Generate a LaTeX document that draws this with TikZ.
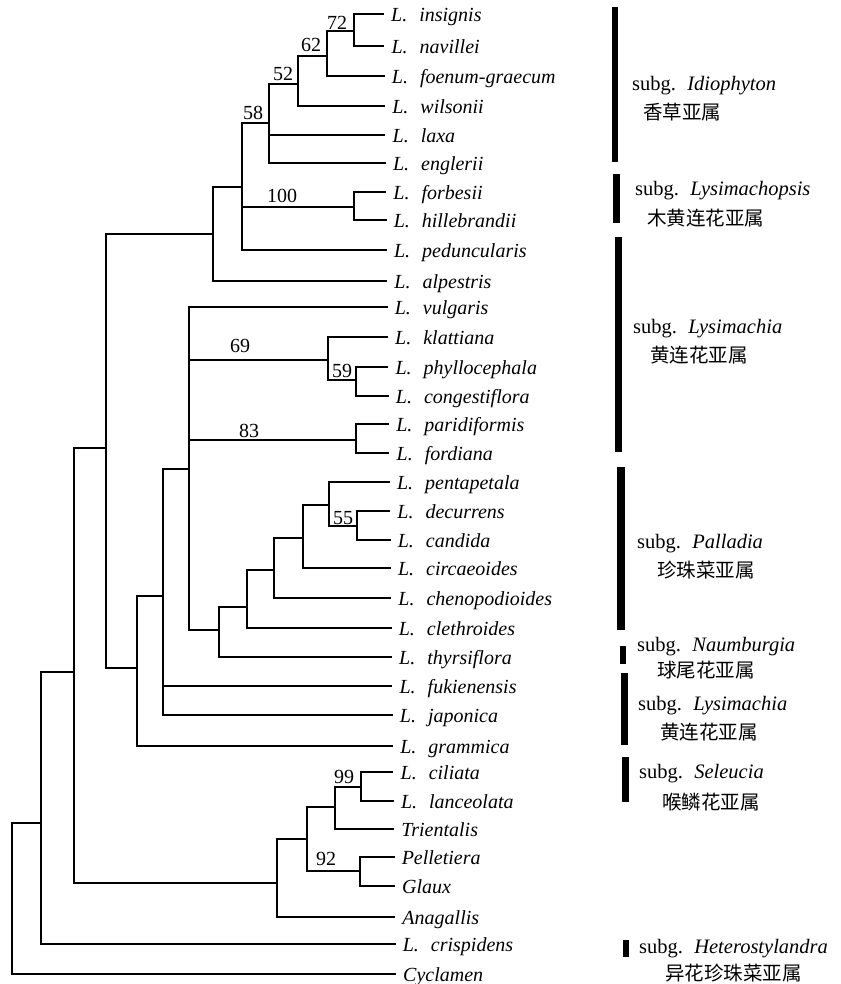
\documentclass[tikz,border=0pt]{standalone}
\usepackage{fontspec}
\setmainfont{Liberation Serif}
\newfontfamily\cjkf{Noto Sans CJK SC}
\newcommand\genusL{L.\hspace{0.6em}}
\newcommand\subgsp{subg.\hspace{0.55em}}
\begin{document}
\begin{tikzpicture}[x=1pt,y=-1pt,
  br/.style={line width=2.5pt, line join=miter},
  leaf/.style={anchor=base west, inner sep=0pt, font=\fontsize{20}{24}\selectfont\itshape},
  bs/.style={anchor=base, inner sep=0pt, font=\fontsize{20}{24}\selectfont},
  sg/.style={anchor=base west, inner sep=0pt, font=\fontsize{20.5}{24}\selectfont},
  cn/.style={anchor=base west, inner sep=0pt, font=\cjkf\fontsize{19.5}{24}\selectfont},
  barfill/.style={fill=black}]
\useasboundingbox (0,0) rectangle (840,984);
\fill[white] (0,0) rectangle (840,984);

% leaves
\foreach \i/\yy/\nm in {
 0/14/{\genusL insignis},
 1/46/{\genusL navillei},
 2/76/{\genusL foenum-graecum},
 3/106/{\genusL wilsonii},
 4/135/{\genusL laxa},
 5/163/{\genusL englerii},
 6/192/{\genusL forbesii},
 7/220/{\genusL hillebrandii},
 8/250/{\genusL peduncularis},
 9/281/{\genusL alpestris},
 10/307/{\genusL vulgaris},
 11/337/{\genusL klattiana},
 12/367/{\genusL phyllocephala},
 13/396/{\genusL congestiflora},
 14/424/{\genusL paridiformis},
 15/453/{\genusL fordiana},
 16/482/{\genusL pentapetala},
 17/511/{\genusL decurrens},
 18/540/{\genusL candida},
 19/568/{\genusL circaeoides},
 20/598/{\genusL chenopodioides},
 21/628/{\genusL clethroides},
 22/657/{\genusL thyrsiflora},
 23/686/{\genusL fukienensis},
 24/715/{\genusL japonica},
 25/746/{\genusL grammica},
 26/772/{\genusL ciliata},
 27/801/{\genusL lanceolata},
 28/829/{Trientalis},
 29/857/{Pelletiera},
 30/886/{Glaux},
 31/917/{Anagallis},
 32/944/{\genusL crispidens},
 33/974/{Cyclamen}} {
  \pgfmathsetmacro\xe{384+12*\i/33}
  \coordinate (l\i) at (\xe,\yy);
  \node[leaf] (t\i) at ([xshift=7pt,yshift=-7.5pt]l\i) {\nm};
}

% internal nodes
\coordinate (n72) at (354,31);
\coordinate (n62) at (327,56);
\coordinate (n52) at (298,84);
\coordinate (n58) at (269,123);
\coordinate (n100) at (354,207);
\coordinate (nA) at (242,187);
\coordinate (nB) at (213,234);
\coordinate (n59) at (356,380);
\coordinate (n69) at (328,360);
\coordinate (n83) at (356,440);
\coordinate (n55) at (357,526);
\coordinate (nP1) at (329,505);
\coordinate (nP2) at (303,538);
\coordinate (nP3) at (274,570);
\coordinate (nP4) at (247,607);
\coordinate (nP5) at (219,630);
\coordinate (nC) at (189,469);
\coordinate (nD) at (163,596);
\coordinate (nE) at (137,668);
\coordinate (nF) at (106,448);
\coordinate (n99) at (361,787);
\coordinate (nS1) at (335,807);
\coordinate (n92) at (360,871);
\coordinate (nS2) at (307,839);
\coordinate (nS3) at (277,883);
\coordinate (nG) at (74,672);
\coordinate (nH) at (41,823);
\coordinate (root) at (12,898);

% branches
\foreach \p/\c in {n72/l0, n72/l1, n62/n72, n62/l2, n52/n62, n52/l3,
  n58/n52, n58/l4, n58/l5, n100/l6, n100/l7, nA/n58, nA/n100, nA/l8,
  nB/nA, nB/l9, n59/l12, n59/l13, n69/l11, n69/n59, n83/l14, n83/l15,
  n55/l17, n55/l18, nP1/l16, nP1/n55, nP2/nP1, nP2/l19, nP3/nP2, nP3/l20,
  nP4/nP3, nP4/l21, nP5/nP4, nP5/l22, nC/l10, nC/n69, nC/n83, nC/nP5,
  nD/nC, nD/l23, nD/l24, nE/nD, nE/l25, nF/nB, nF/nE,
  n99/l26, n99/l27, nS1/n99, nS1/l28, n92/l29, n92/l30, nS2/nS1, nS2/n92,
  nS3/nS2, nS3/l31, nG/nF, nG/nS3, nH/nG, nH/l32, root/nH, root/l33} {
  \draw[br] (\p) |- (\c);
}

% support values
\node[bs] (b72) at (337,30) {72};
\node[bs] (b62) at (311,52) {62};
\node[bs] (b52) at (283,81) {52};
\node[bs] (b58) at (253,120) {58};
\node[bs] (b100) at (282,203) {100};
\node[bs] (b69) at (240,352) {69};
\node[bs] (b59) at (342,377) {59};
\node[bs] (b83) at (249,437) {83};
\node[bs] (b55) at (343,524) {55};
\node[bs] (b99) at (344,783) {99};
\node[bs] (b92) at (326,865) {92};

% subgenus bars
\fill[barfill] (612,7) rectangle (618,162);
\fill[barfill] (613,174) rectangle (620,223);
\fill[barfill] (615,237) rectangle (621.5,452);
\fill[barfill] (617,467) rectangle (624.5,630);
\fill[barfill] (620,646) rectangle (626,664);
\fill[barfill] (621,673) rectangle (627.5,745);
\fill[barfill] (622,757) rectangle (628.5,802);
\fill[barfill] (623,940) rectangle (629,957);

% subgenus labels
\node[sg] (s1) at (632,91) {\subgsp\textit{Idiophyton}};
\node[cn] (c1) at (643,119.5) {香草亚属};
\node[sg] (s2) at (635,196) {\subgsp\textit{Lysimachopsis}};
\node[cn] (c2) at (647,225.5) {木黄连花亚属};
\node[sg] (s3) at (633,333) {\subgsp\textit{Lysimachia}};
\node[cn] (c3) at (650,362.5) {黄连花亚属};
\node[sg] (s4) at (637,548) {\subgsp\textit{Palladia}};
\node[cn] (c4) at (657,577.5) {珍珠菜亚属};
\node[sg] (s5) at (637,651) {\subgsp\textit{Naumburgia}};
\node[cn] (c5) at (657,677.5) {球尾花亚属};
\node[sg] (s6) at (638,710) {\subgsp\textit{Lysimachia}};
\node[cn] (c6) at (660,739.5) {黄连花亚属};
\node[sg] (s7) at (639,778) {\subgsp\textit{Seleucia}};
\node[cn] (c7) at (662,809.5) {喉鳞花亚属};
\node[sg] (s8) at (639,953) {\subgsp\textit{Heterostylandra}};
\node[cn] (c8) at (665,980.5) {异花珍珠菜亚属};
\end{tikzpicture}
\end{document}
